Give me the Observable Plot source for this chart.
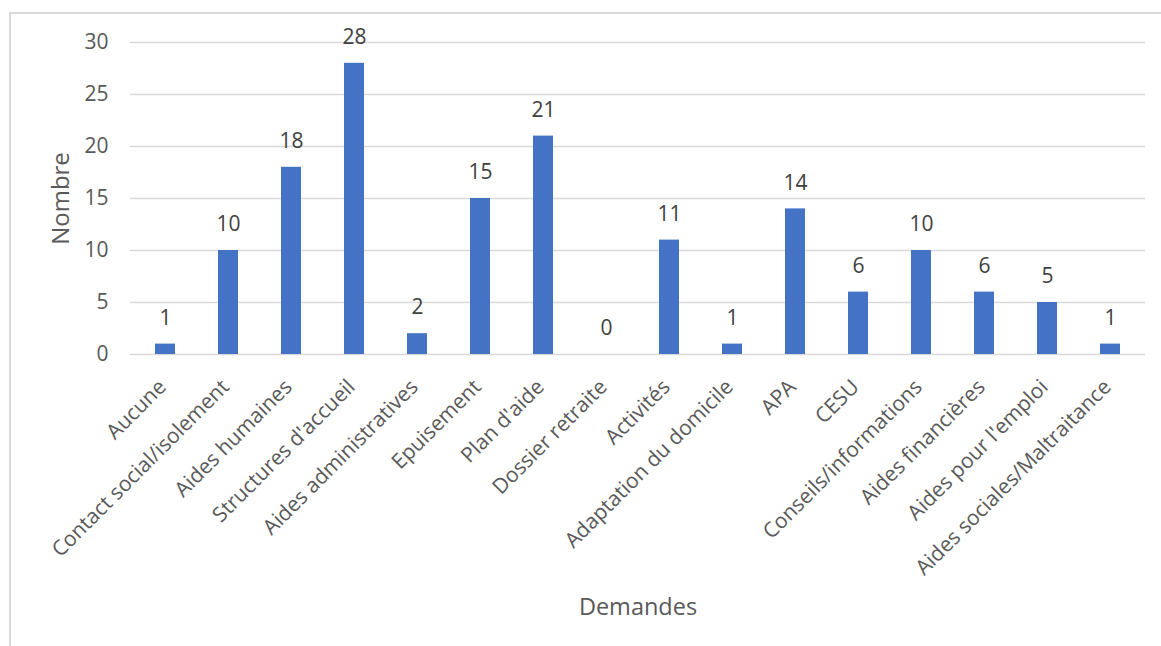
<!DOCTYPE html>
<html>
<head>
<meta charset="utf-8">
<script src="https://cdn.jsdelivr.net/npm/d3@7"></script>
<script src="https://cdn.jsdelivr.net/npm/@observablehq/plot@0.6"></script>
<style>
  body { margin: 0; background: #fff; }
  #chart { position: relative; width: 1161px; height: 646px; overflow: hidden; }
  #frame { position: absolute; left: 9px; top: 12px; width: 1300px; height: 800px;
           border-left: 2px solid #d9d9d9; border-top: 2px solid #d9d9d9; }
  #chart svg { position: absolute; left: 0; top: 0; }
</style>
</head>
<body>
<div id="chart"><div id="frame"></div></div>
<script>
// Demandes exprimées et leur nombre
const categories = [
  "Aucune",
  "Contact social/isolement",
  "Aides humaines",
  "Structures d'accueil",
  "Aides administratives",
  "Epuisement",
  "Plan d'aide",
  "Dossier retraite",
  "Activités",
  "Adaptation du domicile",
  "APA",
  "CESU",
  "Conseils/informations",
  "Aides financières",
  "Aides pour l'emploi",
  "Aides sociales/Maltraitance"
];
const values = [1, 10, 18, 28, 2, 15, 21, 0, 11, 1, 14, 6, 10, 6, 5, 1];
const yTicks = [0, 5, 10, 15, 20, 25, 30];
const xTitle = "Demandes";
const yTitle = "Nombre";

const data = categories.map((c, i) => ({demande: c, nombre: values[i]}));

const chart = Plot.plot({
  width: 1161,
  height: 646,
  marginLeft: 130,
  marginRight: 16,
  marginTop: 42,
  marginBottom: 292,
  style: {fontFamily: "'Open Sans', sans-serif", fontSize: "21px", color: "#595959", background: "transparent"},
  x: {domain: categories, paddingInner: 0.685, paddingOuter: 0.3425},
  y: {domain: [0, 30]},
  marks: [
    Plot.gridY(yTicks, {stroke: "#d9d9d9", strokeOpacity: 1, strokeWidth: 1.5}),
    Plot.barY(data, {x: "demande", y: "nombre", fill: "#4472C4"}),
    Plot.text(data, {x: "demande", y: "nombre", text: d => String(d.nombre), dy: -26, fill: "#404040", fontSize: 21}),
    Plot.axisY(yTicks, {tickSize: 0, tickPadding: 22, fontSize: 21, fill: "#595959", label: null}),
    Plot.axisX({tickSize: 0, tickPadding: 6, tickRotate: -45, fontSize: 21, fill: "#595959", label: null, dy: 23, dx: -3}),
    Plot.text([yTitle], {frameAnchor: "left", textAnchor: "middle", lineAnchor: "middle", rotate: -90, dx: -69, fontSize: 24, fill: "#595959"}),
    Plot.text([xTitle], {frameAnchor: "bottom", textAnchor: "middle", lineAnchor: "middle", dy: 253, fontSize: 23.5, fill: "#595959"})
  ]
});
document.getElementById("chart").appendChild(chart);
</script>
</body>
</html>
